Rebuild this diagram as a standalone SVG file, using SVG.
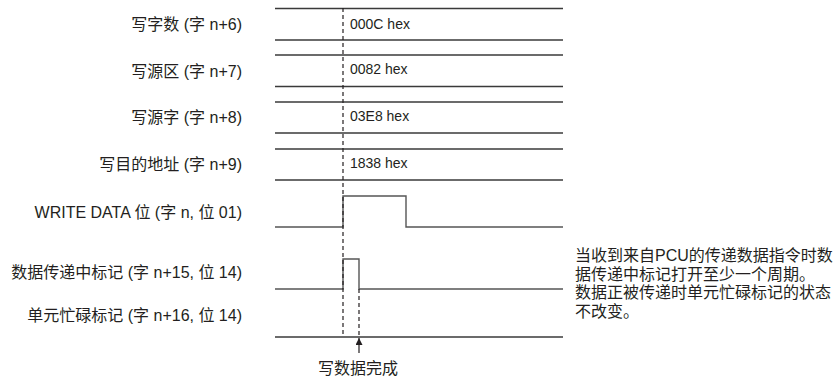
<svg xmlns="http://www.w3.org/2000/svg" width="836" height="379" viewBox="0 0 836 379">
<style>
  .lbl { font-family: "Liberation Sans", "Noto Sans CJK SC", sans-serif; font-size: 16px; fill: #231f20; }
  .r { text-anchor: end; }
  .hex { font-family: "Liberation Sans", sans-serif; font-size: 14px; fill: #231f20; }
  .ln { stroke: #3a3a3a; stroke-width: 1.4; fill: none; }
  .sig { stroke: #555; stroke-width: 1.4; fill: none; }
  .dash { stroke: #231f20; stroke-width: 1.2; stroke-dasharray: 4 3; fill: none; }
</style>
<defs>
  <marker id="ah" viewBox="0 0 10 10" refX="10" refY="5" markerWidth="7" markerHeight="7" markerUnits="userSpaceOnUse" orient="auto">
    <path d="M0,0 L10,5 L0,10 z" fill="#231f20"/>
  </marker>
</defs>
<g id="row-word-count">
  <text class="lbl r" x="242" y="30">写字数 (字 n+6)</text>
  <text class="hex" x="350" y="28.5">000C hex</text>
</g>
<g id="row-source-area">
  <text class="lbl r" x="242" y="76.5">写源区 (字 n+7)</text>
  <text class="hex" x="350" y="74">0082 hex</text>
</g>
<g id="row-source-word">
  <text class="lbl r" x="242" y="123">写源字 (字 n+8)</text>
  <text class="hex" x="350" y="120.5">03E8 hex</text>
</g>
<g id="row-dest-addr">
  <text class="lbl r" x="242" y="169.5">写目的地址 (字 n+9)</text>
  <text class="hex" x="350" y="167.5">1838 hex</text>
</g>
<g id="sig-write-data">
  <text class="lbl r" x="242" y="218">WRITE DATA 位 (字 n, 位 01)</text>
</g>
<g id="sig-transfer-flag">
  <text class="lbl r" x="242" y="278">数据传递中标记 (字 n+15, 位 14)</text>
</g>
<g id="sig-busy-flag">
  <text class="lbl r" x="242" y="321">单元忙碌标记 (字 n+16, 位 14)</text>
</g>
<g id="note">
  <text class="lbl" x="575" y="261">当收到来自PCU的传递数据指令时数</text>
  <text class="lbl" x="575" y="279.5">据传递中标记打开至少一个周期。</text>
  <text class="lbl" x="575" y="298">数据正被传递时单元忙碌标记的状态</text>
  <text class="lbl" x="575" y="316.5">不改变。</text>
</g>
<g id="done-label">
  <text class="lbl" x="358" y="374" text-anchor="middle">写数据完成</text>
</g>
<g id="connectors">
  <line class="ln" x1="275" y1="8.5" x2="563" y2="8.5"/>
  <line class="ln" x1="275" y1="40" x2="563" y2="40"/>
  <line class="ln" x1="275" y1="55" x2="563" y2="55"/>
  <line class="ln" x1="275" y1="86.5" x2="563" y2="86.5"/>
  <line class="ln" x1="275" y1="102" x2="563" y2="102"/>
  <line class="ln" x1="275" y1="133" x2="563" y2="133"/>
  <line class="ln" x1="275" y1="149" x2="563" y2="149"/>
  <line class="ln" x1="275" y1="180" x2="563" y2="180"/>
  <polyline class="sig" points="275,227 343,227 343,196 406,196 406,227 563,227"/>
  <polyline class="sig" points="275,289 343,289 343,259 359,259 359,289 563,289"/>
  <line class="ln" x1="275" y1="337" x2="563" y2="337"/>
  <line class="dash" x1="343" y1="8" x2="343" y2="337"/>
  <line class="dash" x1="359" y1="289" x2="359" y2="337"/>
  <line x1="359" y1="353" x2="359" y2="338" stroke="#231f20" stroke-width="1.2" marker-end="url(#ah)"/>
</g>
</svg>
